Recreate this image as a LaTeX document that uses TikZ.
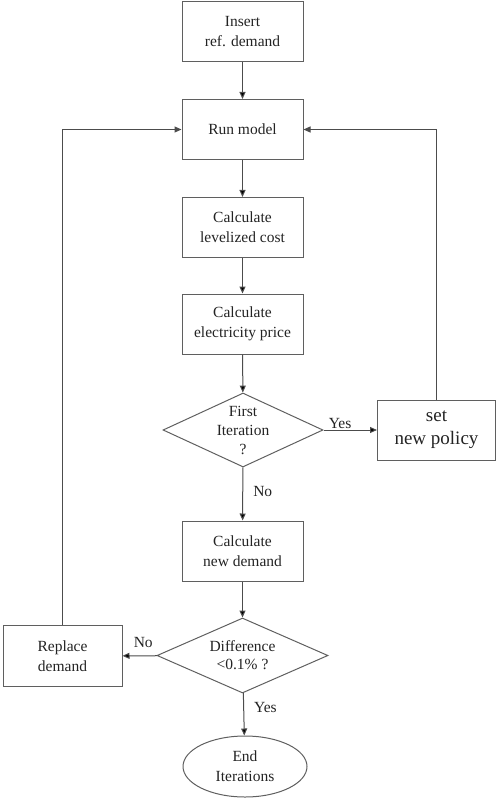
\documentclass[tikz,border=0pt]{standalone}
\usepackage{fontspec}
\setmainfont{Liberation Serif}
\usetikzlibrary{shapes.geometric,arrows.meta}
\definecolor{linegray}{RGB}{95,95,95}
\definecolor{textgray}{RGB}{35,35,35}
\begin{document}
\begin{tikzpicture}[x=1pt,y=-1pt,
  line width=1pt,text=textgray,
  main node/.style={rectangle,draw=linegray,align=center,font=\fontsize{15.5}{20}\selectfont,minimum width=121pt,minimum height=60pt,inner sep=0pt},
  decision node/.style={diamond,draw=linegray,inner sep=0pt,minimum width=#1,minimum height=74pt},
  end node/.style={ellipse,draw=linegray,align=center,font=\fontsize{15.5}{20}\selectfont,minimum width=124pt,minimum height=61pt,inner sep=0pt},
  arrow/.style={draw=linegray!80!black,-{Triangle[length=7pt,width=6pt]}},
  answer/.style={font=\fontsize{15.5}{18}\selectfont,inner sep=0pt}]

  \useasboundingbox (0,0) rectangle (498,799);

  \node[main node] (1) at (242.5,32) {Insert\\ref. demand};
  \node[main node] (2) at (242.5,129.5) {Run model};
  \node[main node] (3) at (242.5,227.5) {Calculate\\levelized cost};
  \node[main node] (4) at (242.5,324) {Calculate\\electricity price};
  \node[decision node=160pt,label={[align=center,font=\fontsize{15.5}{19}\selectfont]center:{First\\Iteration\\?}}] (5) at (243,430) {};
  \node[main node,minimum width=118pt,font=\fontsize{19}{23}\selectfont] (6) at (436.5,430) {set\\new policy};
  \node[main node] (7) at (242.5,551) {Calculate\\new demand};
  \node[decision node=171pt,minimum height=75pt,label={[align=center,font=\fontsize{15.5}{18}\selectfont]center:{Difference\\<0.1\% ?}}] (8) at (242.5,655.5) {};
  \node[main node,minimum width=119pt,minimum height=61pt] (9) at (62.5,656) {Replace\\demand};
  \node[end node] (10) at (245,766.5) {End\\Iterations};

  \path[arrow,every node/.style={answer}]
   (1) edge node{}(2)
   (2) edge node{}(3)
   (3) edge node{}(4)
   (4) edge node{}(5)
   (5) edge node[above=1pt,pos=0.31]{Yes}(6)
   (5) edge node[right=10pt,pos=0.45]{No}(7)
   (7) edge node{}(8)
   (8) edge node[above=8pt,pos=0.4]{No}(9)
   (8) edge node[right=10pt,pos=0.34]{Yes}(10);

  \draw[arrow] (9.north) |- (2.west);
  \draw[arrow] (6.north) |- (2.east);
\end{tikzpicture}
\end{document}
